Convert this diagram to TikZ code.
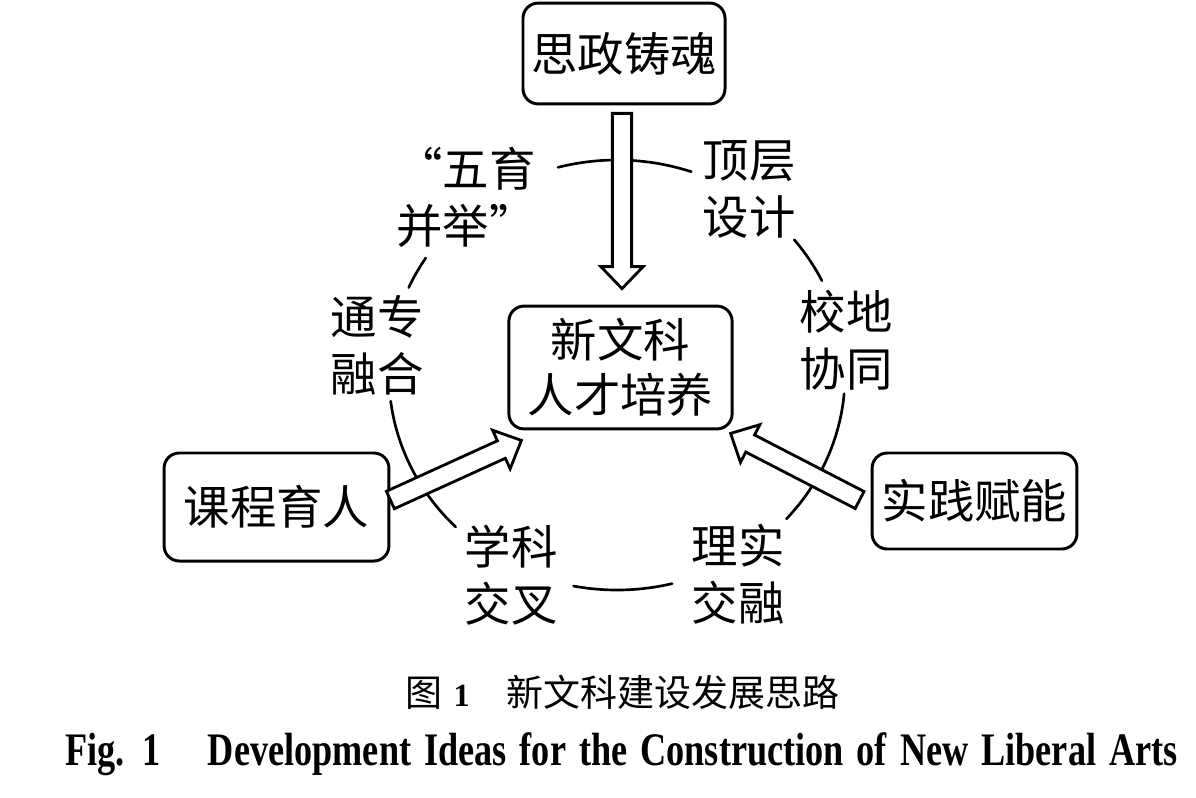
\documentclass[tikz,border=0pt]{standalone}
\usepackage{fontspec}
\usepackage{graphicx}
\setmainfont{Liberation Serif}
\newfontfamily\cjk{Noto Sans CJK SC}
\usetikzlibrary{calc}
\newcommand\blockarrow[2]{%
  \coordinate (ba-h) at ($(#2)!0.55cm!(#1)$);
  \draw[blockarr] ($(#1)!0.24cm!90:(#2)$) -- ($(ba-h)!0.24cm!90:(#2)$)
    -- ($(ba-h)!0.53cm!90:(#2)$) -- (#2) -- ($(ba-h)!0.53cm!-90:(#2)$)
    -- ($(ba-h)!0.24cm!-90:(#2)$) -- ($(#1)!0.24cm!-90:(#2)$) -- cycle;}
\begin{document}
\begin{tikzpicture}[x=0.025cm, y=-0.025cm,
  box/.style={draw, line width=2.1pt, rounded corners=0.38cm, inner sep=0pt, align=center,
    font=\cjk\fontsize{33}{39}\selectfont},
  lab/.style={inner sep=0pt, align=center, font=\cjk\fontsize{33}{40.5}\selectfont},
  ring/.style={line width=1.9pt, line cap=round},
  blockarr/.style={draw, fill=white, line width=2pt, line join=miter}]
\fill[white] (0,0) rectangle (1196,797);
\useasboundingbox (0,0) rectangle (1196,797);

% ring segments
\draw[ring] plot[domain=-105:-71, samples=25, smooth] ({617+228*cos(\x)},{375+215*sin(\x)});
\draw[ring] plot[domain=204:213, samples=10, smooth] ({617+228*cos(\x)},{375+215*sin(\x)});
\draw[ring] plot[domain=135:173, samples=25, smooth] ({617+228*cos(\x)},{375+215*sin(\x)});
\draw[ring] plot[domain=76:101, samples=20, smooth] ({617+228*cos(\x)},{375+215*sin(\x)});
\draw[ring] plot[domain=5:42, samples=25, smooth] ({617+228*cos(\x)},{375+215*sin(\x)});
\draw[ring] plot[domain=-39:-26, samples=10, smooth] ({617+228*cos(\x)},{375+215*sin(\x)});

% boxes
\node[box, minimum width=5.05cm, minimum height=2.52cm] (top) at (624,53.5) {思政铸魂};
\node[box, minimum width=5.58cm, minimum height=3.07cm] (mid) at (620.5,367.5) {新文科\\人才培养};
\node[box, minimum width=5.62cm, minimum height=2.7cm] (left) at (276.5,507) {课程育人};
\node[box, minimum width=5.12cm, minimum height=2.4cm] (right) at (974.5,501) {实践赋能};

% labels
\node[lab] (l1) at (466,197) {“五育\\并举”};
\node[lab] (l2) at (749,189) {顶层\\设计};
\node[lab] (l3) at (377,345) {通专\\融合};
\node[lab] (l4) at (846,340) {校地\\协同};
\node[lab] (l5) at (511,575) {学科\\交叉};
\node[lab] (l6) at (738,574) {理实\\交融};

% block arrows
\coordinate (a1s) at ($(top.south)+(-2,8)$);
\coordinate (a1e) at ($(mid.north)+(1.5,-16)$);
\coordinate (a2s) at ($(left.east)+(0,-7)$);
\coordinate (a2e) at ($(mid.south west)+(14,10)$);
\coordinate (a3s) at ($(right.west)+(-11,-1)$);
\coordinate (a3e) at ($(mid.south east)+(-3,3)$);
\blockarrow{a1s}{a1e}
\blockarrow{a2s}{a2e}
\blockarrow{a3s}{a3e}

% captions
\node[anchor=west, inner sep=0pt] (cap1) at (405,692)
  {{\cjk\fontsize{26.3}{30}\selectfont 图}\hspace{8pt}{\fontsize{23}{28}\selectfont\bfseries 1}\hspace{26pt}{\cjk\fontsize{26.3}{30}\selectfont 新文科建设发展思路}};
\node[anchor=base west, inner sep=0pt] (cap2) at (65,765)
  {\resizebox{27.8cm}{0.82cm}{\bfseries\spaceskip=0.36em plus 0.1em Fig.\hspace{0.5em}1\hspace{1.3em}Development Ideas for the Construction of New Liberal Arts}};
\end{tikzpicture}
\end{document}
